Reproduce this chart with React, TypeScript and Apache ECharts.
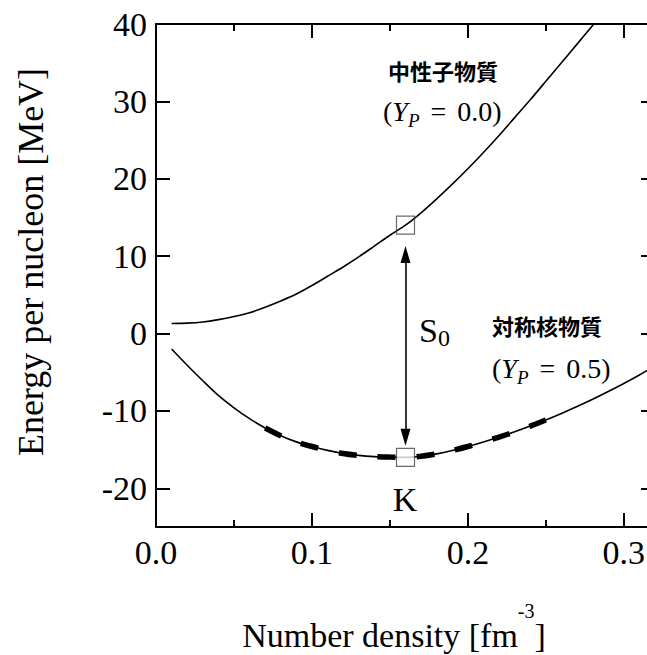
import React, { useEffect, useRef } from 'react';
import * as echarts from 'echarts';

// Neutron matter (Y_P = 0.0)
const densityNM = [0.01, 0.02, 0.03, 0.04, 0.05, 0.06, 0.07, 0.08, 0.09, 0.10, 0.11, 0.12, 0.13, 0.14, 0.15, 0.16, 0.17, 0.18, 0.19, 0.20, 0.21, 0.22, 0.23, 0.24, 0.25, 0.26, 0.27, 0.28, 0.29];
const energyNM = [1.3, 1.35, 1.5, 1.8, 2.2, 2.7, 3.4, 4.2, 5.1, 6.2, 7.4, 8.6, 9.9, 11.3, 12.7, 14.0, 15.6, 17.4, 19.3, 21.3, 23.4, 25.6, 27.9, 30.2, 32.6, 35.0, 37.4, 39.8, 42.2];

// Symmetric nuclear matter (Y_P = 0.5)
const densitySNM = [0.01, 0.02, 0.03, 0.04, 0.05, 0.06, 0.07, 0.08, 0.09, 0.10, 0.11, 0.12, 0.13, 0.14, 0.15, 0.16, 0.17, 0.18, 0.19, 0.20, 0.21, 0.22, 0.23, 0.24, 0.25, 0.26, 0.27, 0.28, 0.29, 0.30, 0.31, 0.32];
const energySNM = [-2.0, -4.1, -6.1, -8.0, -9.6, -11.0, -12.2, -13.2, -14.0, -14.6, -15.1, -15.5, -15.75, -15.9, -15.97, -16.0, -15.85, -15.55, -15.12, -14.6, -14.02, -13.38, -12.7, -11.96, -11.17, -10.33, -9.44, -8.5, -7.5, -6.45, -5.35, -4.2];

// Thick dashed (curvature / K) region
const fitRange = [0.07, 0.25];

// Saturation point markers and S0 arrow
const saturationDensity = 0.16;
const saturationEnergies = [14, -16];
const s0Arrow = [10.2, -13.4];

const xTickLabels = ['0.0', '0.1', '0.2', '0.3'];

const SERIF = '"Liberation Serif", "Times New Roman", serif';
const CJK = '"Noto Sans CJK JP", "Noto Sans CJK SC", sans-serif';

export default function App() {
  const ref = useRef<HTMLDivElement>(null);
  useEffect(() => {
    if (!ref.current) return;
    const chart = echarts.init(ref.current, null, { renderer: 'svg' });

    const nm = densityNM.map((d, i) => [d, energyNM[i]]);
    const snm = densitySNM.map((d, i) => [d, energySNM[i]]);
    const fit = snm.filter((p) => p[0] >= fitRange[0] - 1e-9 && p[0] <= fitRange[1] + 1e-9);

    const axisLine = { show: true, onZero: false, lineStyle: { color: '#000', width: 2 } };
    const tickStyle = { color: '#000', width: 2 };

    const xBase = {
      type: 'value',
      min: 0,
      max: 0.32,
      interval: 0.1,
      splitLine: { show: false },
      axisLine,
      axisTick: { show: true, inside: true, length: 14, lineStyle: tickStyle },
      minorTick: { show: true, splitNumber: 2, length: 7, lineStyle: tickStyle },
    };
    const yBase = {
      type: 'value',
      min: -25,
      max: 40,
      splitNumber: 7,
      splitLine: { show: false },
      axisLine,
      axisTick: { show: true, inside: true, length: 14, lineStyle: tickStyle },
    };

    const ypRich = {
      y: { fontFamily: SERIF, fontSize: 28, fontStyle: 'italic', fill: '#000' },
      p: { fontFamily: SERIF, fontSize: 19, fontStyle: 'italic', fill: '#000', padding: [18, 0, 0, 0] },
      e: { fontFamily: SERIF, fontSize: 28, fill: '#000', padding: [0, 4, 0, 4] },
      n: { fontFamily: SERIF, fontSize: 28, fill: '#000' },
    };

    chart.setOption({
      animation: false,
      backgroundColor: '#fff',
      grid: { left: 156, top: 24, right: 45, bottom: 128, containLabel: false },
      xAxis: [
        {
          ...xBase,
          position: 'bottom',
          axisLabel: {
            show: true,
            margin: 8,
            showMaxLabel: false,
            color: '#000',
            fontFamily: SERIF,
            fontSize: 34,
            formatter: (v: number) => xTickLabels[Math.round(v * 10)] ?? '',
          },
        },
        {
          ...xBase,
          position: 'top',
          axisLabel: { show: false },
        },
      ],
      yAxis: [
        {
          ...yBase,
          position: 'left',
          axisLabel: {
            show: true,
            margin: 9,
            showMinLabel: false,
            color: '#000',
            fontFamily: SERIF,
            fontSize: 34,
          },
        },
        {
          ...yBase,
          position: 'right',
          axisLabel: { show: false },
        },
      ],
      series: [
        {
          name: 'neutron',
          type: 'line',
          data: nm,
          smooth: 0.3,
          showSymbol: false,
          symbol: 'none',
          clip: true,
          lineStyle: { color: '#000', width: 1.6 },
          silent: true,
          z: 2,
        },
        {
          name: 'symmetric',
          type: 'line',
          data: snm,
          smooth: 0.3,
          showSymbol: false,
          symbol: 'none',
          clip: true,
          lineStyle: { color: '#000', width: 1.6 },
          silent: true,
          z: 2,
        },
        {
          name: 'fit',
          type: 'line',
          data: fit,
          smooth: 0.3,
          showSymbol: false,
          symbol: 'none',
          lineStyle: { color: '#000', width: 5.5, type: [18, 21], cap: 'butt' },
          silent: true,
          z: 3,
        },
        {
          name: 'satNM',
          type: 'scatter',
          data: [[saturationDensity, saturationEnergies[0]]],
          symbol: 'rect',
          symbolSize: 18,
          itemStyle: { color: 'rgba(0,0,0,0)', borderColor: '#444', borderWidth: 1.2 },
          silent: true,
          z: 5,
          markLine: {
            silent: true,
            symbol: ['triangle', 'triangle'],
            symbolSize: [10, 17],
            label: { show: false },
            lineStyle: { color: '#000', width: 1.6, type: 'solid' },
            emphasis: { disabled: true },
            data: [[{ coord: [saturationDensity, s0Arrow[0]] }, { coord: [saturationDensity, s0Arrow[1]] }]],
          },
        },
        {
          name: 'satSNM',
          type: 'scatter',
          data: [[saturationDensity, saturationEnergies[1]]],
          symbol: 'rect',
          symbolSize: 18,
          itemStyle: { color: '#fff', borderColor: '#444', borderWidth: 1.2 },
          silent: true,
          z: 5,
        },
      ],
      graphic: [
        {
          type: 'text',
          x: 31,
          y: 262,
          rotation: Math.PI / 2,
          style: {
            text: 'Energy per nucleon [MeV]',
            fontFamily: SERIF,
            fontSize: 36,
            fill: '#000',
            textAlign: 'center',
            textVerticalAlign: 'middle',
          },
        },
        {
          type: 'text',
          x: 394,
          y: 635,
          style: {
            text: '{a|Number density [fm}{b|-3}{a|]}',
            fill: '#000',
            textAlign: 'center',
            textVerticalAlign: 'middle',
            rich: {
              a: { fontFamily: SERIF, fontSize: 34, fill: '#000' },
              b: { fontFamily: SERIF, fontSize: 20, fill: '#000', padding: [0, 0, 48, 0] },
            },
          },
        },
        {
          type: 'text',
          x: 388,
          y: 70,
          style: {
            text: '中性子物質',
            fontFamily: CJK,
            fontWeight: 'bold',
            fontSize: 22,
            fill: '#000',
            textAlign: 'left',
            textVerticalAlign: 'middle',
          },
        },
        {
          type: 'text',
          x: 383,
          y: 111,
          style: {
            text: '{n|(}{y|Y}{p|P}{n| }{e|=}{n| 0.0)}',
            fill: '#000',
            textAlign: 'left',
            textVerticalAlign: 'middle',
            fontFamily: SERIF,
            fontSize: 28,
            rich: ypRich,
          },
        },
        {
          type: 'text',
          x: 492,
          y: 325,
          style: {
            text: '対称核物質',
            fontFamily: CJK,
            fontWeight: 'bold',
            fontSize: 22,
            fill: '#000',
            textAlign: 'left',
            textVerticalAlign: 'middle',
          },
        },
        {
          type: 'text',
          x: 492,
          y: 368,
          style: {
            text: '{n|(}{y|Y}{p|P}{n| }{e|=}{n| 0.5)}',
            fill: '#000',
            textAlign: 'left',
            textVerticalAlign: 'middle',
            fontFamily: SERIF,
            fontSize: 28,
            rich: ypRich,
          },
        },
        {
          type: 'text',
          x: 419,
          y: 330,
          style: {
            text: '{s|S}{z|0}',
            fill: '#000',
            textAlign: 'left',
            textVerticalAlign: 'middle',
            rich: {
              s: { fontFamily: SERIF, fontSize: 34, fill: '#000' },
              z: { fontFamily: SERIF, fontSize: 24, fill: '#000', padding: [16, 0, 0, 0] },
            },
          },
        },
        {
          type: 'text',
          x: 405,
          y: 499,
          style: {
            text: 'K',
            fontFamily: SERIF,
            fontSize: 34,
            fill: '#000',
            textAlign: 'center',
            textVerticalAlign: 'middle',
          },
        },
      ],
    });

    return () => chart.dispose();
  }, []);

  return (
    <div style={{ position: 'fixed', left: 0, top: 0, width: 647, height: 655, overflow: 'hidden', background: '#fff' }}>
      <div ref={ref} style={{ position: 'absolute', left: 0, top: 0, width: 700, height: 655 }} />
    </div>
  );
}
